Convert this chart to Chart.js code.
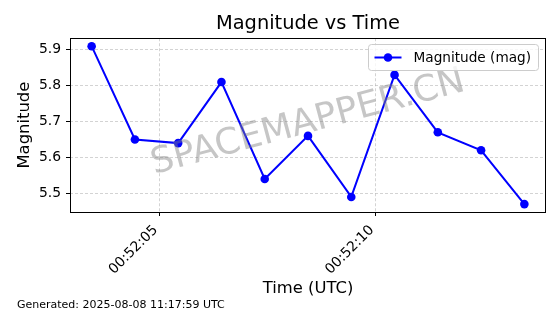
<!DOCTYPE html>
<html><head><meta charset="utf-8">
<script src="https://cdn.jsdelivr.net/npm/chart.js@4.4.1/dist/chart.umd.min.js"></script>
<style>html,body{margin:0;padding:0;background:#fff;overflow:hidden}#wrap{width:560px;height:314px;position:relative}</style>
</head><body><div id="wrap"><canvas id="c" width="560" height="314"></canvas></div>
<script>
const times = ["00:52:03.43","00:52:04.43","00:52:05.43","00:52:06.43","00:52:07.43","00:52:08.43","00:52:09.43","00:52:10.43","00:52:11.43","00:52:12.43","00:52:13.43"];
const magnitudes = [5.91,5.65,5.64,5.81,5.54,5.66,5.49,5.83,5.67,5.62,5.47];
const xTickLabels = ["00:52:05","00:52:10"];
const yTickValues = [5.5,5.6,5.7,5.8,5.9];
const seriesLabel = "Magnitude (mag)";
const titleText = "Magnitude vs Time";
const xTitle = "Time (UTC)";
const yTitle = "Magnitude";
const footerText = "Generated: 2025-08-08 11:17:59 UTC";
const watermarkText = "SPACEMAPPER.CN";

const FONT = "'DejaVu Sans', sans-serif";
function toSec(t){const p=t.split(':');return (+p[0])*3600+(+p[1])*60+parseFloat(p[2]);}
function fmt(s){s=Math.round(s);const h=Math.floor(s/3600),m=Math.floor(s%3600/60),ss=s%60;const z=n=>String(n).padStart(2,'0');return z(h)+':'+z(m)+':'+z(ss);}
const xs = times.map(toSec);
const xTickValues = xTickLabels.map(toSec);
const xr = xs[xs.length-1]-xs[0];
const ymin = Math.min(...magnitudes), ymax = Math.max(...magnitudes), yr = ymax-ymin;

const extras = {
  id:'extras',
  afterDatasetsDraw(chart){
    const {ctx, chartArea:a} = chart;
    ctx.save();
    ctx.strokeStyle='#000'; ctx.lineWidth=1;
    ctx.strokeRect(Math.round(a.left)+0.5, Math.round(a.top)+0.5, Math.round(a.right-a.left)-1, Math.round(a.bottom-a.top));
    ctx.restore();
  },
  afterDraw(chart){
    const {ctx, chartArea:a} = chart;
    // watermark
    ctx.save();
    ctx.translate((a.left+a.right)/2, (a.top+a.bottom)/2 - 2);
    ctx.rotate(-15*Math.PI/180);
    ctx.font = "36px "+FONT;
    ctx.fillStyle='rgba(128,128,128,0.45)';
    ctx.textAlign='center'; ctx.textBaseline='middle';
    ctx.fillText(watermarkText,0,0);
    ctx.restore();
    // legend
    ctx.save();
    const bw=170,bh=26,bx=Math.round(a.right)-8-bw+0.5,by=Math.round(a.top)+6+0.5;
    ctx.beginPath(); ctx.roundRect(bx,by,bw,bh,3);
    ctx.fillStyle='rgba(255,255,255,0.8)'; ctx.fill();
    ctx.strokeStyle='#cccccc'; ctx.lineWidth=1; ctx.stroke();
    const ly=by+bh/2;
    ctx.strokeStyle='#0000ff'; ctx.lineWidth=2;
    ctx.beginPath(); ctx.moveTo(bx+6,ly); ctx.lineTo(bx+33,ly); ctx.stroke();
    ctx.fillStyle='#0000ff'; ctx.beginPath(); ctx.arc(bx+19.5,ly,4.3,0,Math.PI*2); ctx.fill();
    ctx.fillStyle='#000'; ctx.font="13.65px "+FONT; ctx.textBaseline='middle'; ctx.textAlign='left';
    ctx.fillText(seriesLabel,bx+45,ly+0.5);
    ctx.restore();
    // footer
    ctx.save();
    ctx.fillStyle='#000'; ctx.font="11px "+FONT; ctx.textBaseline='middle'; ctx.textAlign='left';
    ctx.fillText(footerText,17,305);
    ctx.restore();
  }
};

const gridOpts = {color:'rgba(176,176,176,0.7)', lineWidth:0.8, tickLength:4, tickColor:'#000', tickWidth:1};
new Chart(document.getElementById('c'), {
  type:'line',
  data:{datasets:[{
    label: seriesLabel,
    data: xs.map((x,i)=>({x:x,y:magnitudes[i]})),
    borderColor:'#0000ff', backgroundColor:'#0000ff', borderWidth:2,
    pointRadius:4.3, pointHoverRadius:4.3, pointBorderWidth:0, tension:0, clip:false
  }]},
  options:{
    responsive:false, animation:false, devicePixelRatio:1,
    layout:{padding:{left:0,right:14,top:0,bottom:0}},
    plugins:{
      legend:{display:false}, tooltip:{enabled:false},
      title:{display:true, text:titleText, fullSize:false, color:'#000',
        font:{family:FONT,size:19.4,weight:'normal'}, padding:{top:12,bottom:3}}
    },
    scales:{
      x:{type:'linear', position:'bottom', min:xs[0]-0.05*xr, max:xs[xs.length-1]+0.05*xr,
        afterBuildTicks:s=>{s.ticks=xTickValues.map(v=>({value:v}));},
        afterFit:s=>{s.height=102;},
        grid:gridOpts, border:{display:false, dash:[3,2]},
        ticks:{callback:v=>fmt(v), minRotation:45, maxRotation:45, autoSkip:false, color:'#000', padding:6, labelOffset:-4,
          font:{family:FONT,size:13.9}},
        title:{display:true, text:xTitle, color:'#000', font:{family:FONT,size:16.4}, padding:{top:0,bottom:15}}
      },
      y:{type:'linear', min:ymin-0.05*yr, max:ymax+0.05*yr,
        afterBuildTicks:s=>{s.ticks=yTickValues.map(v=>({value:v}));},
        afterFit:s=>{s.width=70;},
        grid:gridOpts, border:{display:false, dash:[3,2]},
        ticks:{callback:v=>Number(v).toFixed(1), color:'#000', padding:5, font:{family:FONT,size:13.9}},
        title:{display:true, text:yTitle, color:'#000', font:{family:FONT,size:16.4}, padding:{top:15,bottom:0}}
      }
    }
  },
  plugins:[extras]
});
</script></body></html>
